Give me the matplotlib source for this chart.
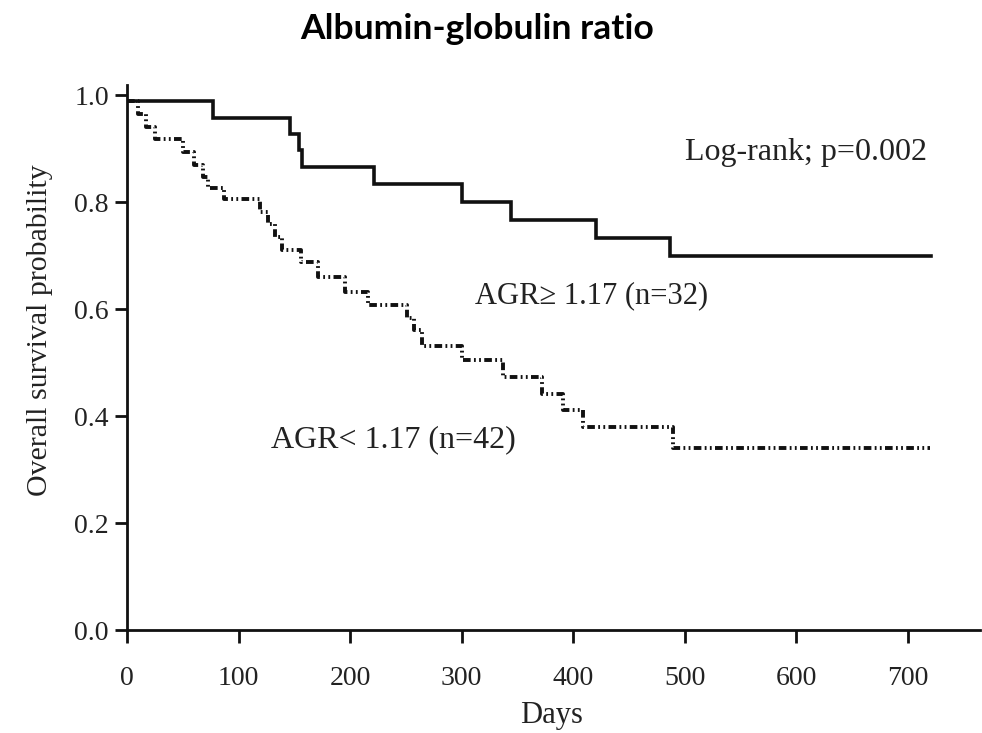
import matplotlib
matplotlib.use("Agg")
import matplotlib.pyplot as plt

# ---- data ----
high_days = [0, 77, 146, 154.5, 156.5, 221, 300, 344, 420, 487, 721]
high_surv = [0.988, 0.958, 0.928, 0.897, 0.865, 0.834, 0.800, 0.767, 0.733, 0.699, 0.699]

low_days = [0, 10, 17, 25, 50, 60, 68, 73, 87, 119, 126, 133, 139, 156,
            171, 195, 216, 251, 257, 264, 300, 337, 372, 391, 409, 489, 720]
low_surv = [0.988, 0.964, 0.941, 0.917, 0.894, 0.870, 0.847, 0.826, 0.805, 0.782,
            0.758, 0.735, 0.711, 0.687, 0.660, 0.632, 0.607, 0.583, 0.560, 0.530,
            0.505, 0.473, 0.442, 0.412, 0.380, 0.341, 0.341]

x_ticks = [0, 100, 200, 300, 400, 500, 600, 700]
y_ticks = [0.0, 0.2, 0.4, 0.6, 0.8, 1.0]
y_tick_labels = ["0.0", "0.2", "0.4", "0.6", "0.8", "1.0"]

title = "Albumin-globulin ratio"
x_label = "Days"
y_label = "Overall survival probability"
label_high = "AGR\u2265 1.17 (n=32)"
label_low = "AGR< 1.17 (n=42)"
logrank = "Log-rank; p=0.002"

plt.rcParams["lines.scale_dashes"] = False
serif = ["Liberation Serif", "DejaVu Serif"]
txt_color = "#222222"

fig = plt.figure(figsize=(9.82, 7.33), dpi=100)
ax = fig.add_axes([0.1293, 0.1405, 0.8687, 0.7435])

ax.plot(high_days, high_surv, drawstyle="steps-post", color="#111111",
        lw=2.6, solid_joinstyle="miter")
ax.plot(low_days, low_surv, drawstyle="steps-post", color="#111111",
        lw=2.8, linestyle=(0, (5.5, 2.4, 1.3, 2.4, 1.3, 2.4)))

ax.set_xlim(0, 764.5)
ax.set_ylim(0, 1.0187)

for s in ["top", "right"]:
    ax.spines[s].set_visible(False)
for s in ["left", "bottom"]:
    ax.spines[s].set_linewidth(2.0)
    ax.spines[s].set_color("#111111")

ax.set_xticks(x_ticks)
ax.set_xticklabels([str(t) for t in x_ticks], fontfamily=serif, fontsize=20, color=txt_color)
ax.set_yticks(y_ticks)
ax.set_yticklabels(y_tick_labels, fontfamily=serif, fontsize=20, color=txt_color)
ax.tick_params(axis="both", direction="out", length=9, width=2.0, color="#111111")
ax.tick_params(axis="x", pad=17)
ax.tick_params(axis="y", pad=4)

ax.set_xlabel(x_label, fontfamily=serif, fontsize=22, color=txt_color)
ax.set_ylabel(y_label, fontfamily=serif, fontsize=21.5, color=txt_color)
ax.xaxis.set_label_coords(0.498, -0.156)
ax.yaxis.set_label_coords(-0.102, 0.55)
ax.xaxis.label.set_va("center")
ax.yaxis.label.set_va("center")

ax.text(608.6, 0.893, logrank, ha="center", va="center", fontfamily=serif,
        fontsize=23, color=txt_color)
ax.text(416, 0.624, label_high, ha="center", va="center", fontfamily=serif,
        fontsize=22, color=txt_color)
ax.text(239, 0.355, label_low, ha="center", va="center", fontfamily=serif,
        fontsize=23, color=txt_color)

fig.text(0.486, 0.960, title, ha="center", va="center", fontfamily=["Lato", "DejaVu Sans"],
         fontweight="bold", fontsize=25.5, color="black")

fig.savefig("out.png", dpi=100, facecolor="white")
